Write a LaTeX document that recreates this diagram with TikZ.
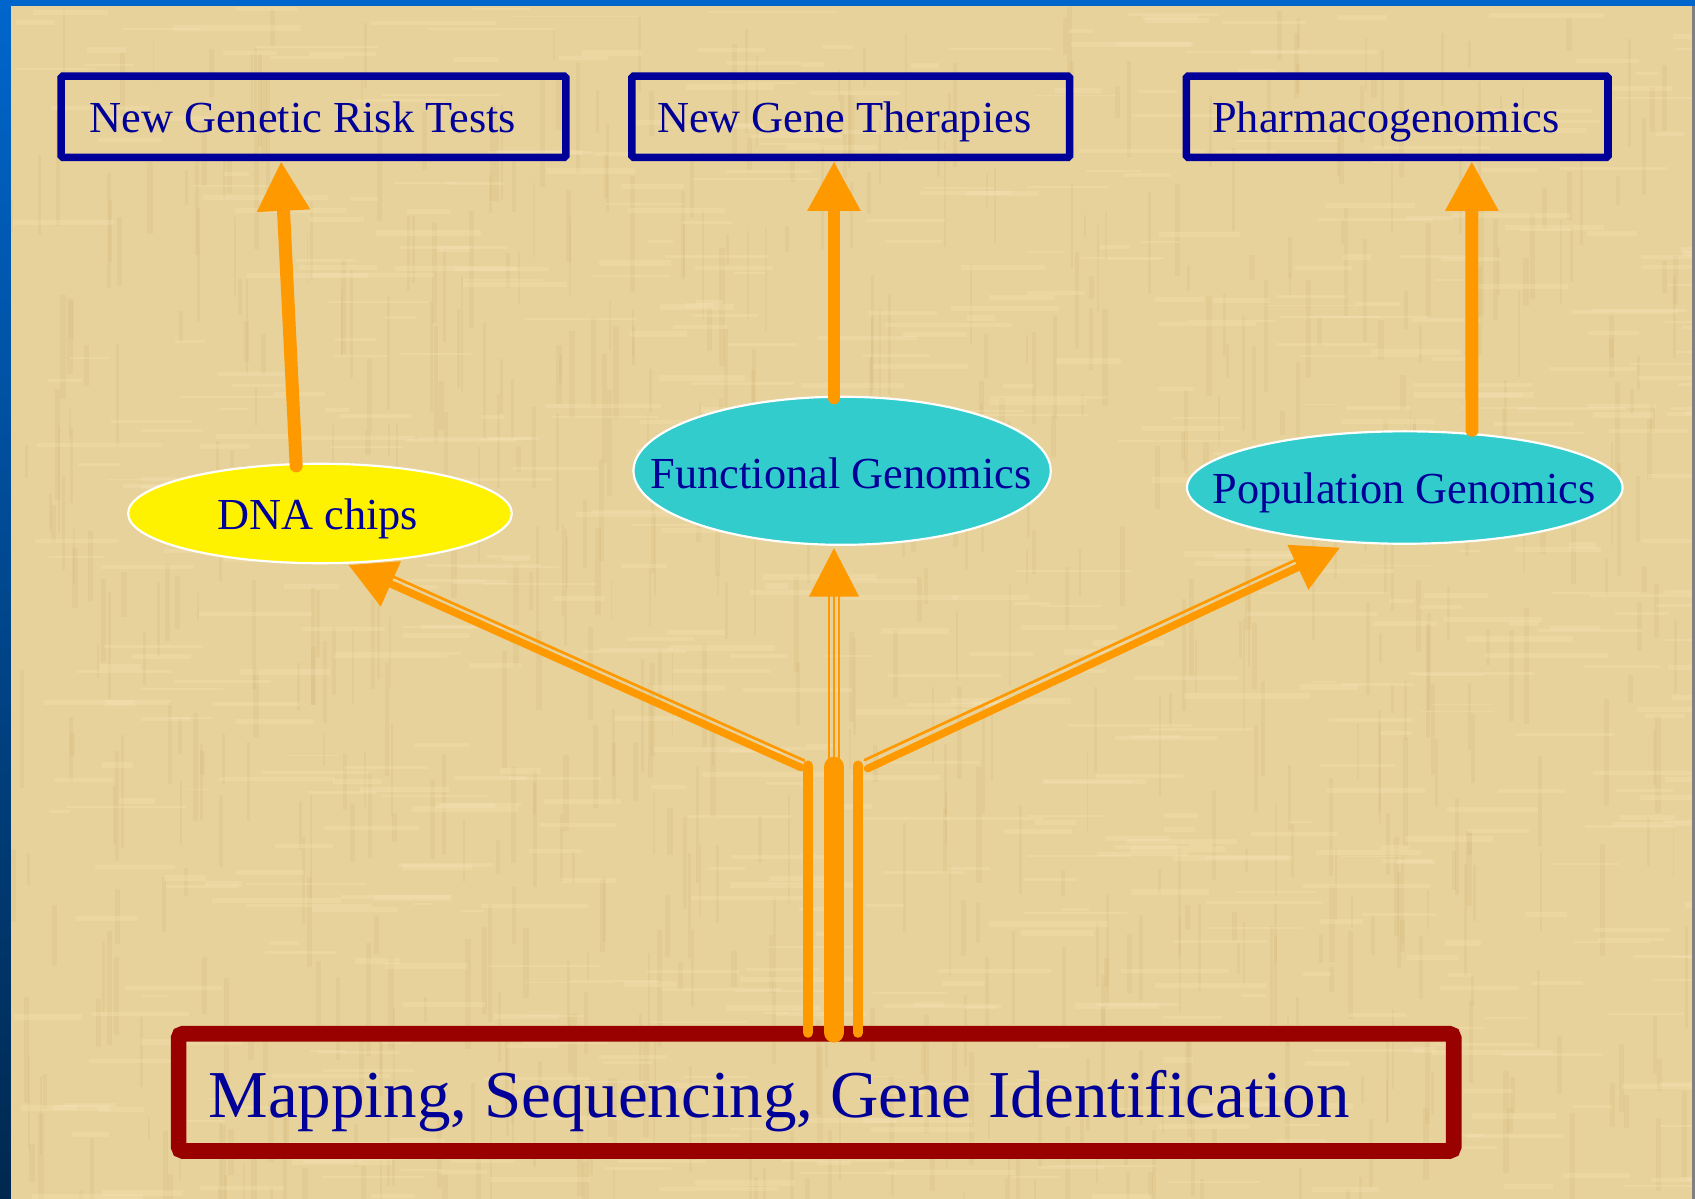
\documentclass[tikz,border=0pt]{standalone}
\usepackage{fontspec}
\setmainfont{Liberation Serif}
\usetikzlibrary{arrows.meta,shapes.geometric}
\definecolor{papyrus}{HTML}{E8D29B}
\definecolor{frameblue}{HTML}{0066CC}
\definecolor{framedark}{HTML}{00284F}
\definecolor{navy}{HTML}{000099}
\definecolor{brick}{HTML}{990000}
\definecolor{amber}{HTML}{FF9900}
\definecolor{cyanfill}{HTML}{33CCCC}
\definecolor{streakdark}{HTML}{C4A45E}
\definecolor{streaklight}{HTML}{F8E8BE}
\begin{document}
\begin{tikzpicture}[x=1pt,y=-1pt,
  topbox/.style={draw=navy, line width=7pt, rounded corners=1.5pt, inner sep=0pt},
  basebox/.style={draw=brick, line width=14.5pt, rounded corners=4pt, inner sep=0pt},
  oval/.style={ellipse, draw=white, line width=2pt, inner sep=0pt},
  lbl/.style={text=navy, font=\fontsize{41}{49}\selectfont, inner sep=0pt, anchor=base},
  biglbl/.style={text=navy, font=\fontsize{62}{74}\selectfont, inner sep=0pt, anchor=base},
  uparrow/.style={draw=amber, line width=12pt, line cap=round, -{Triangle[length=46pt,width=46pt]}},
  brancharrow/.style={draw=amber, line width=7pt, line cap=round, -{Triangle[length=43pt,width=44pt]}},
  thinrail/.style={draw=amber, line width=2.5pt, line cap=round},
  midrail/.style={draw=amber, line width=2pt},
  trunkline/.style={draw=amber, line width=19pt, line cap=round},
  sideline/.style={draw=amber, line width=9pt, line cap=round}
]
\useasboundingbox (0,0) rectangle (1568,1109);
% background
\fill[papyrus] (0,0) rectangle (1568,1109);
\begin{scope}
  \clip (10,5.5) rectangle (1565,1109);
  \pgfmathsetseed{12345}
  \foreach \k in {1,...,700}{
    \pgfmathsetmacro{\xa}{10+1550*rnd}
    \pgfmathsetmacro{\ya}{5+1100*rnd}
    \pgfmathsetmacro{\ww}{1.5+4*rnd}
    \pgfmathsetmacro{\hh}{20+90*rnd}
    \fill[streakdark, opacity=0.13] (\xa,\ya) rectangle ++(\ww,\hh);
  }
  \foreach \k in {1,...,700}{
    \pgfmathsetmacro{\xa}{10+1550*rnd}
    \pgfmathsetmacro{\ya}{5+1100*rnd}
    \pgfmathsetmacro{\ww}{20+100*rnd}
    \pgfmathsetmacro{\hh}{1.5+4*rnd}
    \fill[streaklight, opacity=0.25] (\xa,\ya) rectangle ++(\ww,\hh);
  }
\end{scope}
\fill[top color=frameblue, bottom color=framedark] (0,0) rectangle (10,1109);
\fill[frameblue] (0,0) rectangle (1568,5.5);
\fill[gray] (1565,5.5) rectangle (1568,1109);

% boxes
\node[topbox, minimum width=467pt, minimum height=75pt] (b1) at (290,108) {};
\node[topbox, minimum width=405pt, minimum height=75pt] (b2) at (787,108) {};
\node[topbox, minimum width=390pt, minimum height=75pt] (b3) at (1292.5,108) {};
\node[basebox, minimum width=1179.5pt, minimum height=108.5pt] (base) at (755,1010.5) {};

% ellipses
\node[oval, fill=yellow, minimum width=355pt, minimum height=92pt] (dna) at (296,475) {};
\node[oval, fill=cyanfill, minimum width=386pt, minimum height=137pt] (fg) at (779,435.5) {};
\node[oval, fill=cyanfill, minimum width=403pt, minimum height=104pt] (pg) at (1299.5,451) {};

% connector end points
\coordinate (a1s) at (274,431);   \coordinate (a1e) at (260,149);
\coordinate (a2s) at (771.5,368); \coordinate (a2e) at (771.5,149);
\coordinate (a3s) at (1361.7,398);\coordinate (a3e) at (1361.5,149);
\coordinate (ls) at (741,710);    \coordinate (le) at (322.3,522.6);
\coordinate (lts) at (744,703.5); \coordinate (lte) at (352.6,528.4);
\coordinate (rs) at (802.6,711);  \coordinate (re) at (1239.6,506.6);
\coordinate (rts) at (800,703);   \coordinate (rte) at (1209.4,513);
\coordinate (ms) at (771.5,706);  \coordinate (me) at (771.5,507);
\coordinate (mls) at (767,706);   \coordinate (mle) at (767,545);
\coordinate (mrs) at (776,706);   \coordinate (mre) at (776,545);
\coordinate (tt) at (771.5,709.5); \coordinate (tb) at (771.5,955);
\coordinate (slt) at (747.5,708); \coordinate (slb) at (747.5,955.5);
\coordinate (srt) at (793.7,708); \coordinate (srb) at (793.7,955.5);

% arrows
\draw[uparrow] (a1s) -- (a1e);
\draw[uparrow] (a2s) -- (a2e);
\draw[uparrow] (a3s) -- (a3e);
\draw[thinrail] (lts) -- (lte);
\draw[brancharrow] (ls) -- (le);
\draw[thinrail] (rts) -- (rte);
\draw[brancharrow] (rs) -- (re);
\draw[midrail] (mls) -- (mle);
\draw[midrail] (mrs) -- (mre);
\draw[midrail, -{Triangle[length=45pt,width=46pt]}] (ms) -- (me);
\draw[trunkline] (tt) -- (tb);
\draw[sideline] (slt) -- (slb);
\draw[sideline] (srt) -- (srb);

% texts
\node[lbl] (t1) at (280,123) {New Genetic Risk Tests};
\node[lbl] (t2) at (781,123) {New Gene Therapies};
\node[lbl] (t3) at (1282,123) {Pharmacogenomics};
\node[lbl] (t4) at (294,490) {DNA chips};
\node[lbl] (t5) at (778,451.6) {Functional Genomics};
\node[lbl] (t6) at (1299,465.6) {Population Genomics};
\node[biglbl] (t7) at (720.6,1034) {Mapping, Sequencing, Gene Identification};
\end{tikzpicture}
\end{document}
